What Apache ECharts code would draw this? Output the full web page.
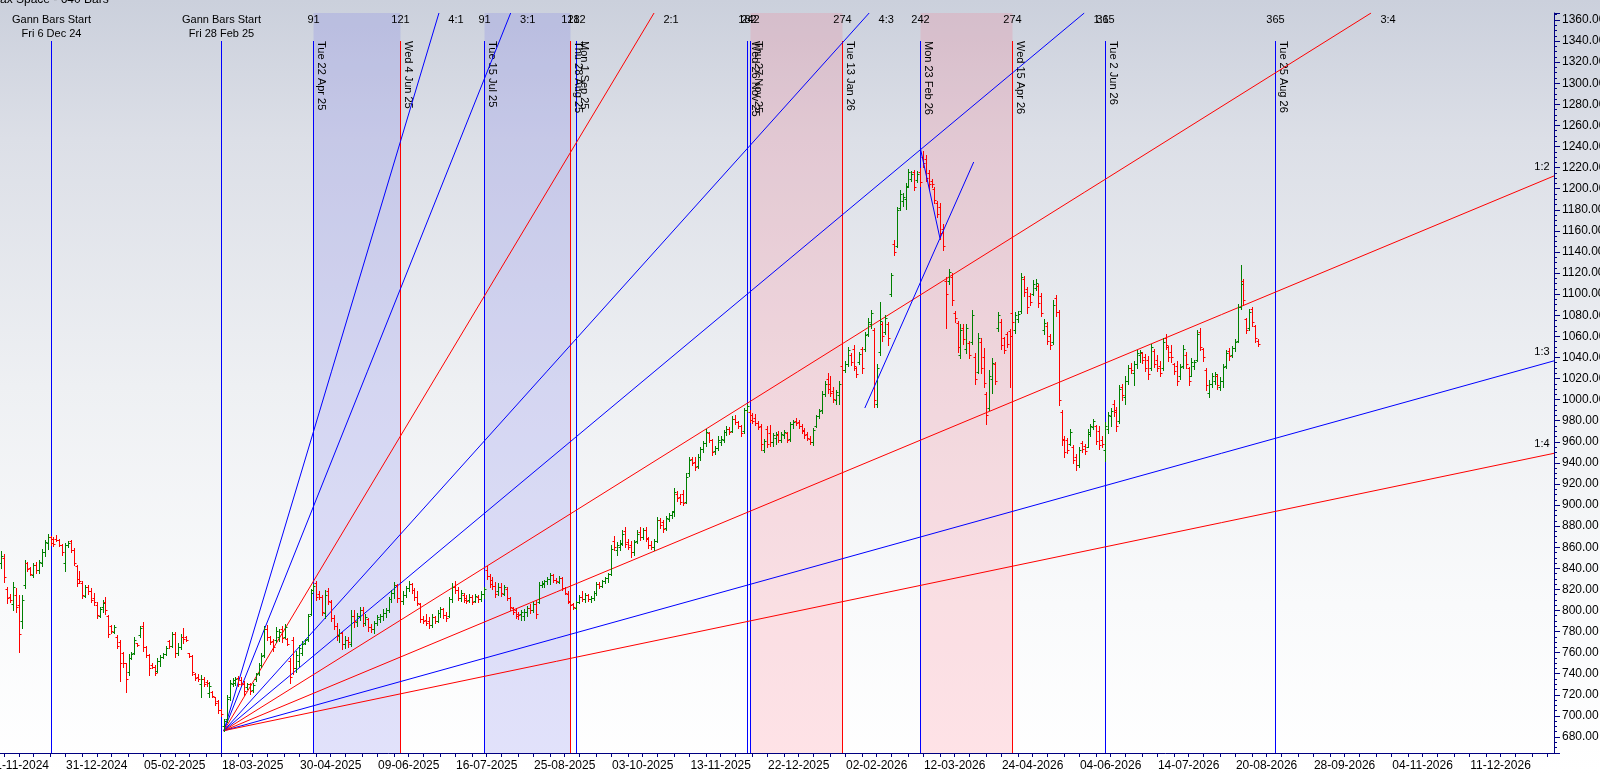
<!DOCTYPE html>
<html><head><meta charset="utf-8">
<script src="https://cdn.jsdelivr.net/npm/echarts@6/dist/echarts.min.js"></script>
<style>html,body{margin:0;padding:0;width:1600px;height:774px;overflow:hidden;background:#fff}#c{width:1600px;height:774px}</style>
</head><body><div id="c"></div>
<script>
// ---------- calendar ----------
const calendarStart = '2024-11-11';
const totalSlots = 538;
const holidays = ['2024-11-15','2024-11-20','2024-12-25','2025-02-26','2025-03-14','2025-03-31','2025-04-10','2025-04-14','2025-04-18','2025-05-01','2025-08-15','2025-08-27','2025-10-02','2025-10-22','2025-11-05','2025-12-25','2026-01-15','2026-01-26','2026-03-03','2026-03-26','2026-03-31','2026-04-03','2026-04-14','2026-05-01','2026-05-28','2026-06-26'];
const specialSessions = ['2025-02-01'];
const tickLabels = ['21-11-2024','31-12-2024','05-02-2025','18-03-2025','30-04-2025','09-06-2025','16-07-2025','25-08-2025','03-10-2025','13-11-2025','22-12-2025','02-02-2026','12-03-2026','24-04-2026','04-06-2026','14-07-2026','20-08-2026','28-09-2026','04-11-2026','11-12-2026'];

// ---------- OHLC ----------
const opens = [
845,850,820,813,806,815,805,790,824,845,
840,834,843,838,845,855,864,870,868,868,
867,862,845,862,866,857,842,830,826,814,
822,818,812,805,795,803,808,795,785,780,
775,770,760,750,742,755,760,769,777,785,
765,758,748,746,743,752,756,759,771,766,
778,760,765,775,775,760,757,740,737,730,
735,732,722,723,718,714,706,690,697,718,
730,731,736,734,730,727,730,725,735,741,
748,758,782,775,771,772,775,782,775,773,
752,772,745,752,760,769,773,797,819,826,
816,813,798,818,808,793,785,777,779,768,
772,768,795,789,795,800,788,792,784,782,
788,792,795,798,800,811,817,824,812,809,
815,821,825,819,813,806,792,791,790,786,
794,790,798,801,796,795,811,822,819,812,
815,812,810,813,809,813,811,816,838,833,
829,823,818,822,816,820,812,802,800,797,
797,795,799,802,800,806,808,824,825,828,
830,834,829,827,831,821,816,808,806,802,
808,813,811,815,811,812,817,825,823,828,
831,835,866,857,860,863,875,865,862,855,
866,874,870,876,868,862,860,866,886,884,
878,887,891,894,910,908,910,903,930,944,
941,937,946,953,959,968,962,951,954,960,
962,969,972,970,982,979,975,970,990,988,
985,983,978,975,952,972,968,960,964,966,
962,966,968,963,977,980,979,975,971,967,
963,960,975,984,990,1005,1020,1015,1008,1000,
1004,1032,1028,1034,1042,1048,1030,1036,1048,1048,
1062,1072,1066,996,1045,1072,1064,1072,1100,1148,
1146,1182,1188,1190,1203,1209,1216,1208,1216,1230,
1228,1215,1207,1200,1186,1183,1162,1112,1112,1116,
1082,1073,1042,1068,1048,1054,1055,1040,1026,1055,
1040,1005,992,1020,1034,1068,1074,1058,1062,1065,
1082,1066,1076,1084,1114,1105,1098,1100,1106,1108,
1098,1066,1070,1060,1055,1096,1083,988,963,962,
958,955,946,938,959,956,955,967,974,975,
970,962,952,972,984,996,990,980,1012,1002,
1018,1030,1025,1034,1042,1044,1040,1038,1030,1046,
1038,1032,1030,1058,1050,1045,1034,1032,1022,1032,
1042,1030,1022,1032,1038,1064,1048,1028,1006,1015,
1018,1022,1012,1018,1032,1046,1042,1049,1056,1088,
1112,1076,1068,1086,1070,1056];
const highs = [
856,854,822,816,827,821,815,815,848,846,
841,845,846,848,858,867,873,871,870,872,
868,863,864,866,867,859,843,837,828,824,
824,821,817,808,803,810,813,796,786,786,
777,772,761,750,759,761,775,769,785,789,
766,759,750,748,755,758,760,766,772,780,
780,769,778,783,776,760,758,741,740,739,
737,734,732,724,718,715,707,697,720,734,
736,737,738,737,733,731,731,731,741,750,
760,785,786,776,773,784,782,785,787,774,
755,775,762,767,771,773,797,820,825,828,
818,815,819,821,810,796,788,782,780,776,
775,800,800,798,803,803,797,793,787,790,
796,797,801,802,813,819,827,825,814,818,
823,828,826,821,818,807,795,797,794,797,
795,800,803,802,799,813,826,828,822,819,
817,815,816,815,816,815,818,822,842,835,
832,827,826,826,824,822,813,803,802,799,
800,801,804,806,808,810,827,828,829,832,
836,835,831,833,832,822,818,811,807,809,
815,818,817,816,814,818,827,827,829,832,
836,862,871,865,867,876,879,868,866,867,
876,879,878,879,870,866,868,889,888,886,
890,892,894,916,913,910,914,930,946,946,
946,948,955,961,972,969,963,956,965,965,
971,975,974,984,985,980,976,992,996,990,
987,986,980,977,963,975,976,968,969,970,
969,971,969,979,981,983,981,977,973,969,
965,973,985,991,1008,1018,1025,1022,1012,1009,
1018,1034,1037,1050,1044,1052,1031,1045,1050,1064,
1077,1085,1068,1034,1093,1074,1080,1074,1120,1151,
1183,1199,1196,1205,1219,1217,1218,1217,1220,1236,
1232,1218,1209,1202,1188,1186,1167,1116,1124,1120,
1084,1075,1072,1072,1072,1056,1085,1044,1063,1058,
1049,1007,1028,1039,1036,1083,1076,1059,1064,1067,
1086,1083,1084,1120,1117,1107,1101,1113,1114,1110,
1101,1076,1074,1062,1094,1099,1085,990,965,964,
972,957,948,955,961,958,972,977,982,976,
975,965,979,988,992,1000,993,1014,1015,1022,
1033,1035,1037,1047,1047,1045,1043,1041,1053,1048,
1042,1037,1058,1062,1051,1052,1035,1037,1034,1052,
1045,1031,1039,1038,1066,1068,1049,1030,1019,1025,
1026,1024,1021,1034,1047,1049,1051,1057,1091,1128,
1114,1077,1086,1088,1071,1057];
const lows = [
840,827,807,808,800,799,761,783,821,837,
834,832,836,836,842,852,858,862,861,866,
861,853,837,860,855,843,823,826,812,813,
816,808,805,793,794,799,797,775,779,779,
764,733,746,723,739,754,759,766,775,762,
756,739,745,739,742,747,755,758,764,765,
756,758,763,769,771,756,739,734,733,718,
728,728,718,718,710,703,700,686,694,715,
728,729,728,729,720,726,721,723,733,739,
746,756,772,768,762,770,771,770,774,767,
731,740,742,747,758,768,771,796,818,810,
811,796,793,806,790,782,772,770,763,764,
765,766,784,785,791,785,786,781,780,779,
786,789,791,794,799,808,812,808,806,806,
813,818,817,810,805,789,788,786,783,784,
788,789,794,793,790,794,808,817,810,809,
808,807,808,806,808,808,809,812,830,822,
820,813,815,814,815,810,800,797,793,792,
791,791,795,798,799,793,807,822,822,825,
825,827,826,826,819,816,807,803,801,801,
807,809,808,809,808,810,815,821,822,826,
827,834,857,853,857,862,860,858,851,853,
864,867,868,866,859,858,857,865,878,874,
876,885,888,890,904,901,900,902,928,938,
933,935,943,950,956,960,947,948,952,957,
960,966,967,969,977,973,965,968,988,979,
978,976,972,952,950,955,956,956,958,960,
960,964,960,961,973,976,973,968,964,962,
958,957,974,983,987,1003,1006,1003,998,996,
996,1026,1026,1032,1033,1028,1021,1034,1025,1046,
1060,1068,993,993,1042,1056,1062,1052,1098,1137,
1145,1180,1184,1181,1202,1207,1199,1206,1203,1221,
1207,1200,1202,1186,1173,1152,1142,1068,1110,1090,
1074,1045,1039,1053,1044,1039,1053,1015,1025,1025,
1012,977,990,1006,1015,1065,1048,1044,1050,1012,
1071,1063,1074,1082,1098,1082,1090,1099,1104,1088,
1079,1062,1053,1048,1053,1079,995,957,946,949,
957,940,933,936,950,948,955,965,972,958,
953,955,942,968,975,984,970,978,1000,996,
1015,1025,1014,1030,1036,1035,1027,1020,1028,1031,
1027,1022,1028,1048,1037,1036,1024,1014,1020,1030,
1030,1014,1022,1029,1037,1047,1037,1009,1002,1012,
1015,1010,1009,1012,1030,1038,1040,1046,1055,1086,
1090,1063,1066,1070,1055,1051];
const closes = [
852,832,812,810,822,803,778,810,845,839,
835,843,838,846,855,865,870,864,863,867,
862,855,862,864,857,845,826,828,815,822,
818,810,808,796,801,807,800,778,781,784,
766,750,750,735,755,759,772,767,783,765,
758,745,746,741,752,756,759,764,766,778,
760,765,775,773,772,757,742,736,735,735,
730,731,728,719,712,706,702,695,716,731,
734,735,730,731,724,730,724,729,740,748,
757,782,775,770,765,781,780,774,784,768,
737,745,758,764,768,772,795,817,823,813,
813,799,815,809,793,785,776,779,768,772,
770,795,790,795,800,788,794,784,782,788,
794,795,798,800,811,817,824,812,809,815,
821,825,819,813,807,792,790,788,786,794,
790,798,801,796,793,811,822,819,812,817,
810,809,813,808,814,811,816,820,833,825,
823,816,822,817,822,812,803,799,795,796,
799,799,802,800,806,797,824,826,828,830,
834,829,828,831,821,817,809,805,803,808,
813,811,815,811,812,817,825,823,828,831,
835,858,860,862,864,873,863,860,855,865,
873,870,876,869,862,860,866,886,881,877,
888,891,893,912,907,903,902,927,943,940,
936,946,953,959,969,962,950,954,962,963,
969,972,969,982,979,975,968,990,994,981,
980,978,974,958,961,958,960,966,967,962,
967,969,962,977,979,978,975,970,966,964,
960,971,984,989,1005,1015,1010,1006,1001,1007,
1015,1028,1034,1047,1036,1032,1024,1043,1030,1061,
1074,1082,1000,1030,1075,1060,1077,1058,1118,1140,
1180,1195,1192,1202,1216,1214,1202,1214,1206,1224,
1210,1204,1204,1189,1176,1158,1146,1100,1121,1094,
1077,1050,1066,1057,1068,1042,1080,1020,1058,1030,
1016,985,1022,1035,1018,1080,1052,1047,1053,1060,
1074,1080,1081,1116,1102,1088,1093,1110,1111,1092,
1082,1073,1056,1052,1090,1083,1000,962,950,952,
969,943,938,952,953,951,969,975,980,961,
957,958,975,985,989,988,975,1010,1004,1018,
1030,1028,1034,1044,1045,1038,1030,1024,1050,1034,
1030,1025,1055,1052,1040,1040,1027,1018,1031,1048,
1034,1018,1036,1036,1062,1050,1040,1014,1015,1022,
1024,1014,1018,1031,1044,1041,1049,1055,1088,1110,
1094,1066,1083,1074,1058,1053];

// ---------- Gann study ----------
const gannStartDates = ['06-12-2024','28-02-2025'];
const barCounts = [91,121,182,242,274,365];
const countColors = {91:'#0000ff',121:'#ff0000',182:'#0000ff',242:'#0000ff',274:'#ff0000',365:'#0000ff'};
const shadedSpans = [[91,121,0],[242,274,1]];
const fanOriginDate = '03-03-2025';
const fanOriginPrice = 686;
const fanUnit = 2.285;
const fanRatios = [4,3,2,4/3,1,3/4,1/2,1/3,1/4];
const fanNames = ['4:1','3:1','2:1','4:3','1:1','3:4','1:2','1:3','1:4'];
const fanColors = ['#0000ff','#0000ff','#ff0000','#0000ff','#0000ff','#ff0000','#ff0000','#0000ff','#ff0000'];
const trendLines = [[[298.9,992],[336.6,1225.3]],[[318.2,1237.6],[324.9,1153.2]]];

// ---------- build ----------
const Y_MIN = 664.83, Y_MAX = 1366.64;
const FONT = '11px "Liberation Sans", Arial, sans-serif';
const AXFONT = '"Liberation Sans", Arial, sans-serif';
const WD = ['Sun','Mon','Tue','Wed','Thu','Fri','Sat'];
const MO = ['Jan','Feb','Mar','Apr','May','Jun','Jul','Aug','Sep','Oct','Nov','Dec'];
const pad = n => (n<10?'0':'')+n;

const hol = new Set(holidays), extra = new Set(specialSessions);
const dates = [];
{
  let t = Date.parse(calendarStart+'T00:00:00Z');
  while (dates.length < totalSlots) {
    const d = new Date(t);
    const iso = d.toISOString().slice(0,10);
    const wd = d.getUTCDay();
    if ((wd>=1 && wd<=5 && !hol.has(iso)) || extra.has(iso)) dates.push(d);
    t += 86400000;
  }
}
const categories = dates.map(d => pad(d.getUTCDate())+'-'+pad(d.getUTCMonth()+1)+'-'+d.getUTCFullYear());
const longLabel = i => { const d = dates[i]; return WD[d.getUTCDay()]+' '+d.getUTCDate()+' '+MO[d.getUTCMonth()]+' '+String(d.getUTCFullYear()).slice(2); };
const tickSet = new Set(tickLabels);
const firstTick = categories.indexOf(tickLabels[0]);

const nBars = Math.min(opens.length, highs.length, lows.length, closes.length);
const ohlcData = [];
for (let i=0;i<nBars;i++) ohlcData.push([i, opens[i], highs[i], lows[i], closes[i]]);

const startIdx = gannStartDates.map(s => categories.indexOf(s));
const markerData = [];
startIdx.forEach(s => barCounts.forEach(c => markerData.push([s+c, c])));
const shadeData = [];
startIdx.forEach(s => shadedSpans.forEach(sp => shadeData.push([s+sp[0], s+sp[1], sp[2]])));

const originIdx = categories.indexOf(fanOriginDate);
const xMaxIdx = totalSlots - 0.5;
const fanSeries = [], fanLabelData = [];
fanRatios.forEach((r, k) => {
  const slope = r*fanUnit;
  let endIdx = originIdx + (Y_MAX - fanOriginPrice)/slope, endP = Y_MAX, top = 1;
  if (endIdx > xMaxIdx) { endIdx = xMaxIdx; endP = fanOriginPrice + slope*(xMaxIdx-originIdx); top = 0; }
  fanSeries.push({type:'line', xAxisIndex:1, yAxisIndex:0, z:3, silent:true, symbol:'none', animation:false,
    data:[[originIdx, fanOriginPrice],[endIdx, endP]], lineStyle:{color:fanColors[k], width:1}});
  fanLabelData.push([endIdx, endP, k, top]);
});

const chart = echarts.init(document.getElementById('c'), null, {renderer:'canvas', width:1600, height:774});

const option = {
  animation:false,
  backgroundColor:{type:'linear',x:0,y:0,x2:0,y2:1,colorStops:[
    {offset:0,color:'#cbd0dc'},{offset:0.18,color:'#dcdfe7'},{offset:0.5,color:'#eef0f3'},{offset:0.78,color:'#f9fafb'},{offset:1,color:'#ffffff'}]},
  grid:{left:0,right:46,top:13,bottom:21,containLabel:false,outerBoundsMode:'none'},
  graphic:[{type:'text',left:-10,top:-6,style:{text:'Max Space - 640 Bars',font:'12px "Liberation Sans", Arial, sans-serif',fill:'#000'}}],
  xAxis:[{
    type:'category', data:categories, boundaryGap:true, position:'bottom',
    axisLine:{show:true,onZero:false,lineStyle:{color:'#000080',width:1}},
    axisTick:{show:true,alignWithLabel:true,length:4,lineStyle:{color:'#000080'},
      interval:(i)=>{const k=((i-firstTick)%27+27)%27; return k===0||k===5||k===11||k===16||k===22;}},
    axisLabel:{show:true,interval:(i,v)=>tickSet.has(v),color:'#000',fontSize:12,fontFamily:AXFONT,margin:7},
    splitLine:{show:false}
  },{
    type:'value', min:-0.5, max:xMaxIdx, show:false, gridIndex:0,
    axisLine:{show:false,onZero:false}, axisTick:{show:false}, axisLabel:{show:false}, splitLine:{show:false}
  }],
  yAxis:[{
    type:'value', position:'right', min:Y_MIN, max:Y_MAX, splitNumber:35, scale:true,
    axisLine:{show:true,onZero:false,lineStyle:{color:'#000080',width:1}},
    axisTick:{show:true,length:6,lineStyle:{color:'#000080'}},
    minorTick:{show:true,splitNumber:4,length:3,lineStyle:{color:'#000080'}},
    axisLabel:{formatter:v=>v.toFixed(2),showMinLabel:false,showMaxLabel:false,color:'#000',fontSize:12,fontFamily:AXFONT,margin:8},
    splitLine:{show:false}
  }],
  series:[
    {type:'custom', name:'shade', xAxisIndex:0, yAxisIndex:0, z:1, silent:true, data:shadeData,
      renderItem:(params, api)=>{
        const cs = params.coordSys;
        const x1 = api.coord([api.value(0), Y_MIN])[0], x2 = api.coord([api.value(1), Y_MIN])[0];
        return {type:'rect', shape:{x:Math.round(x1)+0.5, y:cs.y, width:Math.round(x2)-Math.round(x1), height:cs.height},
          style:{fill: api.value(2)===0 ? 'rgba(110,110,235,0.2)' : 'rgba(255,100,120,0.18)'}};
      }},
    {type:'custom', name:'starts', xAxisIndex:0, yAxisIndex:0, z:2, silent:true, data:startIdx.map(i=>[i]),
      renderItem:(params, api)=>{
        const cs = params.coordSys;
        const i = api.value(0);
        const x = Math.round(api.coord([i, Y_MIN])[0]) + 0.5;
        return {type:'group', children:[
          {type:'line', shape:{x1:x,y1:41,x2:x,y2:cs.y+cs.height}, style:{stroke:'#0000ff',lineWidth:1}},
          {type:'text', x:x, y:20, style:{text:'Gann Bars Start', font:FONT, fill:'#000', align:'center', verticalAlign:'middle'}},
          {type:'text', x:x, y:34, style:{text:longLabel(i), font:FONT, fill:'#000', align:'center', verticalAlign:'middle'}}
        ]};
      }},
    {type:'custom', name:'markers', xAxisIndex:0, yAxisIndex:0, z:2, silent:true, data:markerData,
      renderItem:(params, api)=>{
        const cs = params.coordSys;
        const i = api.value(0), c = api.value(1);
        const x = Math.round(api.coord([i, Y_MIN])[0]) + 0.5;
        return {type:'group', children:[
          {type:'line', shape:{x1:x,y1:41,x2:x,y2:cs.y+cs.height}, style:{stroke:countColors[c],lineWidth:1}},
          {type:'text', x:x, y:20, style:{text:String(c), font:FONT, fill:'#000', align:'center', verticalAlign:'middle'}},
          {type:'text', x:x+2, y:41, rotation:-Math.PI/2, style:{text:longLabel(i), font:FONT, fill:'#000', align:'left', verticalAlign:'bottom'}}
        ]};
      }},
    ...fanSeries,
    {type:'custom', name:'ohlc', xAxisIndex:0, yAxisIndex:0, z:4, silent:true, data:ohlcData, encode:{x:0, y:[1,2,3,4]},
      renderItem:(params, api)=>{
        const i = api.value(0), o = api.value(1), h = api.value(2), l = api.value(3), c = api.value(4);
        const pt = api.coord([i, h]), pb = api.coord([i, l]);
        const yo = Math.round(api.coord([i, o])[1]) + 0.5, yc = Math.round(api.coord([i, c])[1]) + 0.5;
        const x = Math.round(pt[0]) + 0.5;
        const st = {stroke: c >= o ? '#008000' : '#ff0000', lineWidth:1};
        return {type:'group', children:[
          {type:'line', shape:{x1:x,y1:Math.round(pt[1]),x2:x,y2:Math.round(pb[1])+1}, style:st},
          {type:'line', shape:{x1:x-2,y1:yo,x2:x,y2:yo}, style:st},
          {type:'line', shape:{x1:x,y1:yc,x2:x+2,y2:yc}, style:st}
        ]};
      }},
    ...trendLines.map(seg => ({type:'line', xAxisIndex:1, yAxisIndex:0, z:5, silent:true, symbol:'none', data:seg, lineStyle:{color:'#0000ff', width:1}})),
    {type:'custom', name:'fanLabels', xAxisIndex:1, yAxisIndex:0, z:6, silent:true, data:fanLabelData,
      renderItem:(params, api)=>{
        const p = api.coord([api.value(0), api.value(1)]);
        const k = api.value(2), top = api.value(3);
        const x = top ? p[0] + 17 : p[0] - 12;
        const y = top ? 20 : p[1] - 9;
        return {type:'text', x:x, y:y, style:{text:fanNames[k], font:FONT, fill:'#000', align:'center', verticalAlign:'middle'}};
      }}
  ]
};
chart.setOption(option);
</script>
</body></html>
